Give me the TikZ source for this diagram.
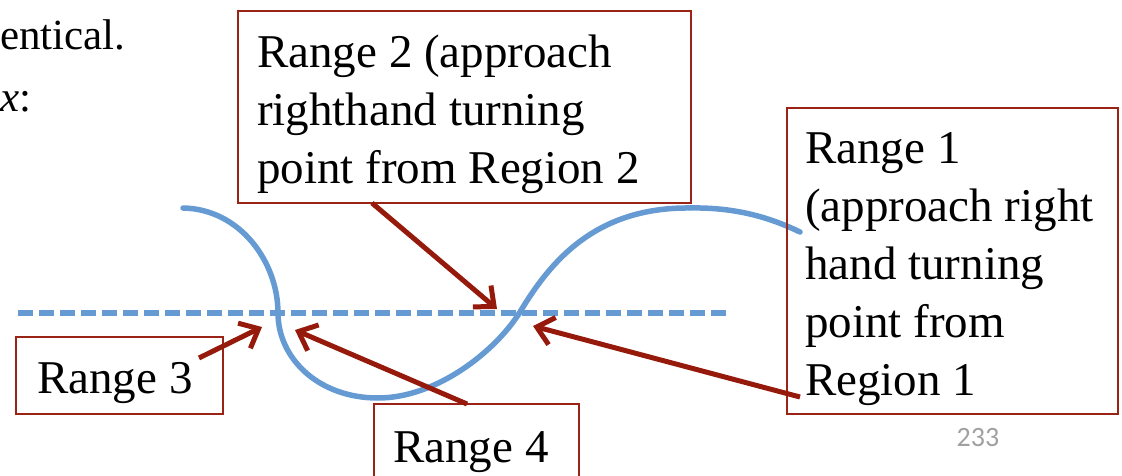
\documentclass[tikz,border=0pt]{standalone}
\usepackage{fontspec}
\setmainfont{Liberation Serif}
\newfontfamily\pagefont{Carlito}
\usetikzlibrary{arrows.meta}

\definecolor{boxred}{HTML}{9B2316}
\definecolor{arrowred}{HTML}{961A0B}
\definecolor{curveblue}{HTML}{659BD2}
\definecolor{pagegray}{HTML}{A0A0A0}

\tikzset{
  labelbox/.style={draw=boxred, line width=2pt, rectangle,
    inner sep=0pt, anchor=north west},
  labeltext/.style={anchor=base west, inner sep=0pt,
    font=\fontsize{47}{58}\selectfont},
  pointer/.style={draw=arrowred, line width=5pt,
    -{Straight Barb[length=16pt,width=28pt]}},
  curve/.style={draw=curveblue, line width=5.5pt, line cap=round},
  axis/.style={draw=curveblue, line width=5.5pt, dash pattern=on 15pt off 6pt},
}

\newcommand{\lines}[1]{\vtop{#1}}

\begin{document}
\begin{tikzpicture}[x=1pt, y=-1pt]
  \useasboundingbox (0,0) rectangle (1122,476);

  % fragment of the slide text on the left
  \node (body1) [anchor=base west, inner sep=0pt, font=\fontsize{43}{52}\selectfont]
    at (0,50) {entical.};
  \node (body2) [anchor=base west, inner sep=0pt, font=\fontsize{43}{52}\selectfont]
    at (0,112) {\textit{x}:};

  % horizontal axis
  \coordinate (axL) at (18,313);
  \coordinate (axR) at (728,313);
  \draw[axis] (axL) -- (axR);

  % the potential curve
  \coordinate (c0) at (183,208);
  \coordinate (c1) at (278,313);
  \coordinate (c2) at (378,398);
  \coordinate (c3) at (520,312);
  \coordinate (c4) at (690,208);
  \coordinate (c5) at (800,232);
  \draw[curve] (c0) .. controls (240,209) and (278,262) .. (c1)
    .. controls (278,358) and (318,398) .. (c2)
    .. controls (436,398) and (495,352) .. (c3)
    .. controls (550,262) and (595,207) .. (c4)
    .. controls (740,207) and (775,220) .. (c5);

  % label boxes
  \node (r2) [labelbox, minimum width=453pt, minimum height=192pt] at (237,10) {};
  \node (r2t) [labeltext] at (257,68)
    {\lines{\hbox{Range 2 (approach}\hbox{righthand turning}\hbox{point from Region 2}}};

  \node (r1) [labelbox, minimum width=331pt, minimum height=306pt] at (786,107) {};
  \node (r1t) [labeltext] at (805,164)
    {\lines{\hbox{Range 1}\hbox{(approach right}\hbox{hand turning}\hbox{point from}\hbox{Region 1}}};

  \node (r3) [labelbox, minimum width=207pt, minimum height=77pt] at (15,336) {};
  \node (r3t) [labeltext] at (37,393) {Range 3};

  \node (r4) [labelbox, minimum width=205pt, minimum height=90pt] at (373,403) {};
  \node (r4t) [labeltext] at (393,462) {Range 4};

  % arrows from the labels to the crossing points
  \coordinate (s2) at (372,203);
  \coordinate (t2) at (497,309);
  \coordinate (s3) at (199,358);
  \coordinate (t3) at (262,327);
  \coordinate (s4) at (467,404);
  \coordinate (t4) at (295,330);
  \coordinate (s1) at (800,397);
  \coordinate (t1) at (533,326);
  \draw[pointer] (s2) -- (t2);
  \draw[pointer] (s3) -- (t3);
  \draw[pointer] (s4) -- (t4);
  \draw[pointer] (s1) -- (t1);

  % page number
  \node (page) [font=\pagefont\fontsize{28}{32}\selectfont, text=pagegray] at (978,438) {233};
\end{tikzpicture}
\end{document}
